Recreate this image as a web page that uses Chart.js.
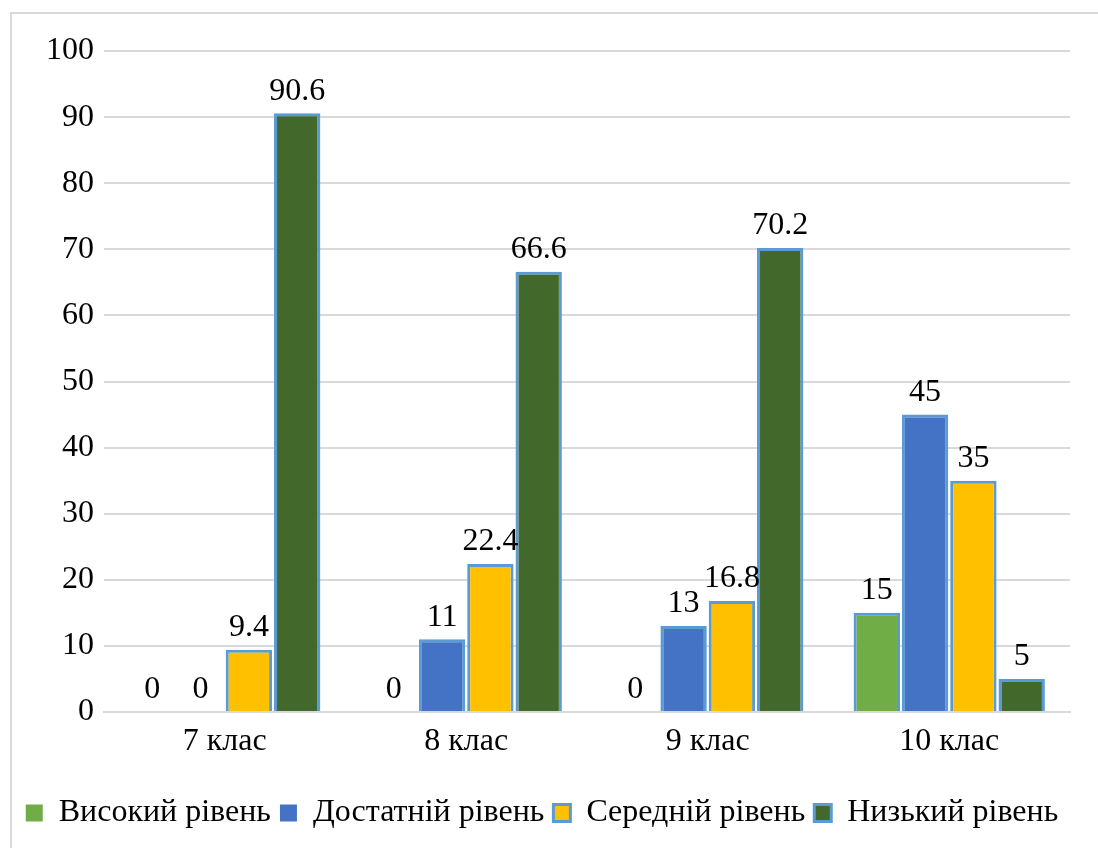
<!DOCTYPE html>
<html>
<head>
<meta charset="utf-8">
<script src="https://cdn.jsdelivr.net/npm/chart.js@4"></script>
<style>
  html, body { margin: 0; padding: 0; background: #fff; }
  #wrap { position: absolute; left: 0; top: 0; width: 1098px; height: 848px; }
</style>
</head>
<body>
<div id="wrap"><canvas id="myChart" width="1098" height="848"></canvas></div>
<script>
// chart data
var categories = ["7 клас", "8 клас", "9 клас", "10 клас"];
var seriesNames = ["Високий рівень", "Достатній рівень", "Середній рівень", "Низький рівень"];
var high = [0, 0, 0, 15];
var sufficient = [0, 11, 13, 45];
var medium = [9.4, 22.4, 16.8, 35];
var low = [90.6, 66.6, 70.2, 5];
var yTicks = [0, 10, 20, 30, 40, 50, 60, 70, 80, 90, 100];

var colors = ["#70AD47", "#4472C4", "#FFC000", "#43682B"];
var fontFamily = "'Liberation Serif', 'Times New Roman', serif";
var fontSize = 32;

// frame around the whole chart + value labels over bars
var framePlugin = {
  id: "frame",
  beforeDraw: function (chart) {
    var ctx = chart.ctx;
    ctx.save();
    ctx.strokeStyle = "#d9d9d9";
    ctx.lineWidth = 2;
    ctx.strokeRect(11, 13, 1098, 850);
    ctx.restore();
  },
  afterDatasetsDraw: function (chart) {
    var ctx = chart.ctx;
    ctx.save();
    ctx.fillStyle = "#000";
    ctx.font = fontSize + "px " + fontFamily;
    ctx.textAlign = "center";
    ctx.textBaseline = "bottom";
    chart.data.datasets.forEach(function (ds, i) {
      var meta = chart.getDatasetMeta(i);
      meta.data.forEach(function (bar, j) {
        ctx.fillText(String(ds.data[j]), bar.x, bar.y - 6);
      });
    });
    ctx.restore();
  }
};

var datasets = [high, sufficient, medium, low].map(function (vals, i) {
  return {
    label: seriesNames[i],
    data: vals,
    backgroundColor: colors[i],
    borderColor: "#5B9BD5",
    borderWidth: function (c) { return c.raw === 0 ? 0 : 3; },
    barPercentage: 0.96,
    categoryPercentage: 0.8
  };
});

var myChart = document.getElementById("myChart").getContext("2d");
var chart = new Chart(myChart, {
  type: "bar",
  data: { labels: categories, datasets: datasets },
  options: {
    responsive: false,
    animation: false,
    layout: { padding: { left: 14, right: 28, top: 51, bottom: 9 } },
    plugins: {
      tooltip: { enabled: false },
      legend: {
        position: "bottom",
        labels: {
          color: "#000",
          font: { family: fontFamily, size: fontSize },
          boxWidth: 17,
          boxHeight: 17,
          padding: 9
        }
      }
    },
    scales: {
      x: {
        grid: { display: false, drawTicks: false },
        border: { color: "#d9d9d9", width: 2 },
        ticks: { color: "#000", font: { family: fontFamily, size: fontSize }, padding: 10 },
        afterFit: function (s) { s.height = 76; }
      },
      y: {
        min: 0,
        max: 100,
        afterBuildTicks: function (s) { s.ticks = yTicks.map(function (v) { return { value: v }; }); },
        grid: { color: "#d9d9d9", lineWidth: 2, drawTicks: false },
        border: { display: false },
        ticks: { color: "#000", font: { family: fontFamily, size: fontSize }, padding: 10 },
        afterFit: function (s) { s.width = 90; }
      }
    }
  },
  plugins: [framePlugin]
});
</script>
</body>
</html>
